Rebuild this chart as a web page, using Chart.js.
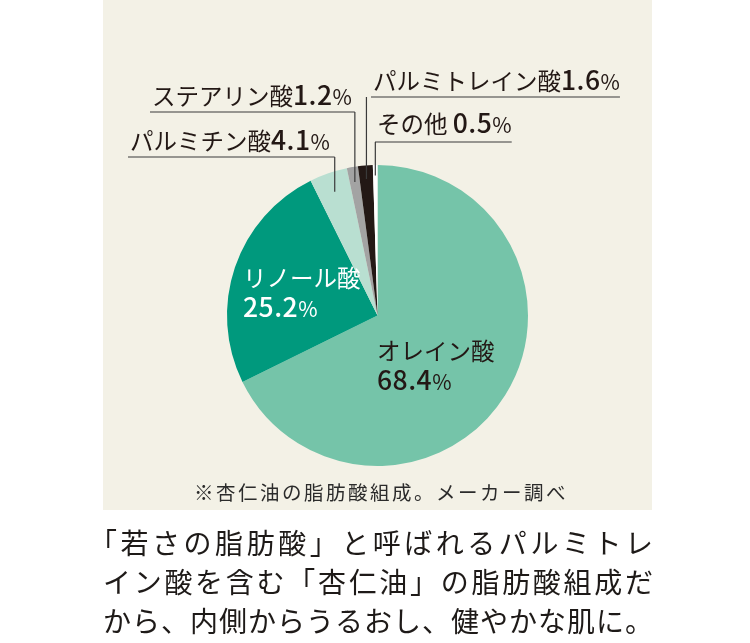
<!DOCTYPE html>
<html lang="ja">
<head>
<meta charset="utf-8">
<title>杏仁油の脂肪酸組成</title>
<script src="https://cdn.jsdelivr.net/npm/chart.js@4.4.0/dist/chart.umd.min.js"></script>
<style>
  html, body { margin: 0; padding: 0; background: #ffffff; }
  #wrap { position: relative; width: 750px; height: 643px; overflow: hidden; }
  #chart { position: absolute; left: 0; top: 0; }
  #lead {
    position: absolute; left: 103px; top: 523px; width: 550px;
    font-family: "Noto Sans CJK JP", sans-serif; font-size: 28px; line-height: 39px;
    color: #1e1a18;
  }
  #lead div { text-align: justify; text-align-last: justify; }
  .halt { font-feature-settings: "halt"; }
</style>
</head>
<body>
<div id="wrap">
  <canvas id="chart" width="750" height="643"></canvas>
  <div id="lead">
    <div><span class="halt">「</span>若さの脂肪酸」と呼ばれるパルミトレ</div>
    <div>イン酸を含む「杏仁油」の脂肪酸組成だ</div>
    <div>から、内側からうるおし、健やかな肌に。</div>
  </div>
</div>
<script>
// Data (fatty acid composition of apricot kernel oil, %)
const labels = ['オレイン酸', 'リノール酸', 'パルミチン酸', 'ステアリン酸', 'パルミトレイン酸', 'その他'];
const values = [68.4, 25.2, 4.1, 1.2, 1.6, 0.5];
const valueTexts = ['68.4', '25.2', '4.1', '1.2', '1.6', '0.5'];
const note = '※杏仁油の脂肪酸組成。メーカー調べ';

// Colors
const sliceColors = ['#75c4a9', '#00997d', '#b9dfd1', '#a3a3a3', '#231815', '#ffffff'];
const panelColor = '#f3f1e6';
const inkColor = '#231815';

// Label layout: labels inside the pie (two lines) and callouts (one line + leader)
const insideLabels = {
    0: { x: 377, y1: 360, y2: 390, color: inkColor },
    1: { x: 243, y1: 287, y2: 317, color: '#ffffff' }
};
const callouts = {
    2: { x: 130, y: 150, lineY: 157, k: 0.87 },
    3: { x: 152, y: 105, lineY: 112, k: 0.9 },
    4: { x: 373, y: 90, lineY: 97, k: 0.91 },
    5: { x: 377, y: 133, lineY: 142, k: 0.93 }
};

const FONT = '"Noto Sans CJK JP", "Noto Sans", sans-serif';

function drawValue(ctx, x, y, num, color) {
    ctx.fillStyle = color;
    ctx.font = '500 26.5px ' + FONT;
    ctx.letterSpacing = '0.5px';
    ctx.fillText(num, x, y);
    x += ctx.measureText(num).width;
    ctx.letterSpacing = '0px';
    ctx.font = '400 21px ' + FONT;
    ctx.fillText('%', x, y);
    return x + ctx.measureText('%').width;
}

function drawName(ctx, x, y, name, color) {
    ctx.fillStyle = color;
    ctx.font = '400 23.5px ' + FONT;
    ctx.letterSpacing = '0px';
    ctx.fillText(name, x, y);
    return x + ctx.measureText(name).width;
}

const panelPlugin = {
    id: 'panel',
    beforeDraw(chart) {
        const ctx = chart.ctx;
        ctx.save();
        ctx.fillStyle = panelColor;
        ctx.fillRect(103, 0, 549, 510);
        ctx.restore();
    }
};

const labelPlugin = {
    id: 'labels',
    afterDraw(chart) {
        const ctx = chart.ctx;
        const meta = chart.getDatasetMeta(0);
        ctx.save();
        ctx.textAlign = 'left';
        ctx.textBaseline = 'alphabetic';

        // labels inside the big slices
        Object.keys(insideLabels).forEach(i => {
            const p = insideLabels[i];
            drawName(ctx, p.x, p.y1, labels[i], p.color);
            drawValue(ctx, p.x, p.y2, valueTexts[i], p.color);
        });

        // callouts with leader lines for the small slices
        Object.keys(callouts).forEach(i => {
            const p = callouts[i];
            const arc = meta.data[i];
            const mid = (arc.startAngle + arc.endAngle) / 2;
            const r = arc.outerRadius * p.k;
            const lx = arc.x + r * Math.cos(mid);
            const ly = arc.y + r * Math.sin(mid);

            const name = i == 5 ? labels[i] + ' ' : labels[i];
            let x = drawName(ctx, p.x, p.y, name, inkColor);
            x = drawValue(ctx, x, p.y, valueTexts[i], inkColor);

            ctx.strokeStyle = '#3a3a3a';
            ctx.lineWidth = 1.2;
            ctx.beginPath();
            ctx.moveTo(p.x - 2, p.lineY);
            ctx.lineTo(Math.max(lx, x), p.lineY);
            ctx.stroke();
            ctx.beginPath();
            ctx.moveTo(lx, p.lineY);
            ctx.lineTo(lx, ly);
            ctx.stroke();
        });

        // source note
        ctx.fillStyle = '#2b2b2b';
        ctx.font = '400 19.5px ' + FONT;
        ctx.letterSpacing = '2.5px';
        ctx.textAlign = 'center';
        ctx.fillText(note, 381, 500);
        ctx.restore();
    }
};

new Chart(document.getElementById('chart'), {
    type: 'pie',
    data: {
        labels: labels,
        datasets: [{
            data: values,
            backgroundColor: sliceColors,
            borderWidth: 0
        }]
    },
    options: {
        responsive: false,
        animation: false,
        layout: {
            padding: { left: 227, right: 222, top: 165, bottom: 177 }
        },
        plugins: {
            legend: { display: false },
            tooltip: { enabled: false }
        }
    },
    plugins: [panelPlugin, labelPlugin]
});
</script>
</body>
</html>
